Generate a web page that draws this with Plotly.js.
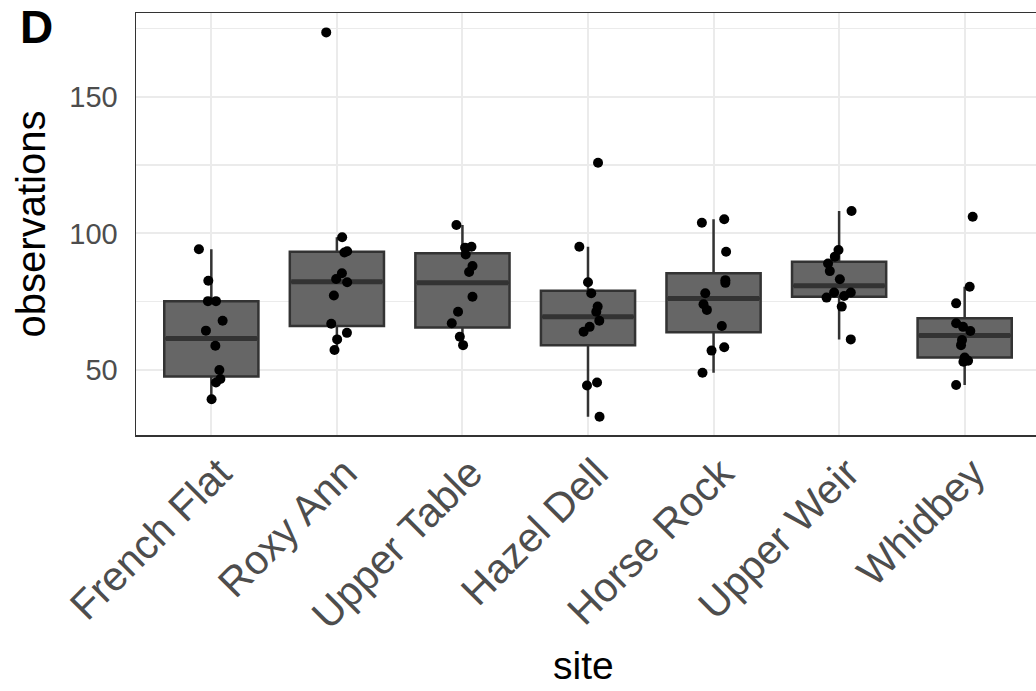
<!DOCTYPE html>
<html>
<head>
<meta charset="utf-8">
<script src="https://cdn.plot.ly/plotly-3.0.1.min.js"></script>
<style>
html, body { margin: 0; padding: 0; overflow: hidden; background: #fff; }
#chart { width: 1040px; height: 691px; }
</style>
</head>
<body>
<div id="chart"></div>
<script>
// Categories
const sites = ["French Flat", "Roxy Ann", "Upper Table", "Hazel Dell", "Horse Rock", "Upper Weir", "Whidbey"];

// Observations per site and their horizontal jitter (fraction of a category)
const obsFrenchFlat = [94.2, 82.7, 75.2, 75.2, 68.0, 64.4, 58.9, 50.0, 46.7, 45.4, 39.3];
const jitFrenchFlat = [-0.099, -0.024, -0.027, 0.037, 0.09, -0.043, 0.032, 0.064, 0.072, 0.037, 0.002];

const obsRoxyAnn = [173.6, 98.6, 93.5, 93.0, 85.4, 83.3, 82.1, 77.3, 66.9, 63.6, 61.2, 57.3];
const jitRoxyAnn = [-0.085, 0.042, 0.082, 0.06, 0.04, -0.006, 0.082, -0.024, -0.045, 0.08, 0.002, -0.019];

const obsUpperTable = [103.1, 95.1, 94.8, 92.3, 88.1, 85.9, 76.8, 71.3, 67.1, 62.2, 59.1];
const jitUpperTable = [-0.048, 0.072, 0.021, 0.026, 0.08, 0.053, 0.08, -0.035, -0.085, -0.021, 0.005];

const obsHazelDell = [125.9, 95.1, 82.1, 78.1, 73.2, 71.3, 68.0, 65.8, 64.0, 45.4, 44.3, 32.9];
const jitHazelDell = [0.08, -0.069, 0.0, 0.026, 0.077, 0.066, 0.09, 0.013, -0.035, 0.072, -0.008, 0.092];

const obsHorseRock = [105.2, 103.9, 93.3, 82.9, 81.9, 78.1, 74.1, 72.0, 66.1, 58.3, 57.1, 49.0];
const jitHorseRock = [0.085, -0.093, 0.1, 0.094, 0.094, -0.066, -0.08, -0.053, 0.066, 0.085, -0.016, -0.088];

const obsUpperWeir = [108.2, 93.9, 91.5, 89.0, 86.2, 83.2, 78.4, 78.4, 77.1, 76.5, 73.2, 61.2];
const jitUpperWeir = [0.099, -0.005, -0.034, -0.088, -0.074, 0.006, -0.04, 0.093, 0.04, -0.1, 0.021, 0.093];

const obsWhidbey = [106.1, 80.5, 74.4, 67.1, 65.8, 64.3, 61.0, 59.1, 54.6, 53.4, 53.0, 44.5];
const jitWhidbey = [0.064, 0.04, -0.068, -0.068, -0.013, 0.045, -0.021, -0.029, 0.0, 0.027, -0.01, -0.068];

// Box statistics per site
const boxLower  = [39.3, 57.3, 59.1, 32.9, 49.0, 61.2, 44.5];
const boxQ1     = [47.6, 66.1, 65.6, 59.1, 63.8, 76.8, 54.6];
const boxMedian = [61.5, 82.3, 81.9, 69.5, 76.2, 80.8, 62.6];
const boxQ3     = [75.2, 93.3, 92.7, 79.0, 85.4, 89.6, 68.9];
const boxUpper  = [94.2, 98.6, 103.1, 95.1, 105.2, 108.2, 80.5];

// Axis tick values
const yTicks = [50, 100, 150];

const allObs = [obsFrenchFlat, obsRoxyAnn, obsUpperTable, obsHazelDell, obsHorseRock, obsUpperWeir, obsWhidbey];
const allJit = [jitFrenchFlat, jitRoxyAnn, jitUpperTable, jitHazelDell, jitHorseRock, jitUpperWeir, jitWhidbey];

const idx = sites.map((s, i) => i);
const BOXW = 0.75;

const boxTrace = {
  type: 'box',
  x: idx,
  q1: boxQ1,
  median: boxMedian,
  q3: boxQ3,
  lowerfence: boxLower,
  upperfence: boxUpper,
  width: BOXW,
  whiskerwidth: 0,
  boxpoints: false,
  fillcolor: '#666666',
  line: { color: '#333333', width: 2.5 },
  hoverinfo: 'skip',
  showlegend: false
};

// thick median bars
const medX = [], medY = [];
idx.forEach(i => {
  medX.push(i - BOXW / 2 + 0.012, i + BOXW / 2 - 0.012, null);
  medY.push(boxMedian[i], boxMedian[i], null);
});
const medTrace = {
  type: 'scatter', mode: 'lines', x: medX, y: medY,
  line: { color: '#333333', width: 5 },
  hoverinfo: 'skip', showlegend: false
};

const px = [], py = [];
allObs.forEach((arr, i) => {
  arr.forEach((v, k) => { px.push(i + allJit[i][k]); py.push(v); });
});
const ptTrace = {
  type: 'scatter', mode: 'markers', x: px, y: py,
  marker: { color: '#000000', size: 10 },
  showlegend: false
};

const FONT = 'Liberation Sans, Arial, Helvetica, sans-serif';

const layout = {
  width: 1040, height: 691,
  margin: { l: 136, r: 0, t: 13, b: 256 },
  paper_bgcolor: '#ffffff',
  plot_bgcolor: '#ffffff',
  font: { family: FONT },
  showlegend: false,
  xaxis: {
    type: 'linear',
    range: [-0.6, 6.6],
    tickvals: idx,
    ticktext: sites,
    tickangle: -45,
    tickfont: { size: 41, color: '#4d4d4d', family: FONT },
    ticks: '',
    ticklabelshift: 8,
    ticklabelstandoff: -4,
    showgrid: true, gridcolor: '#ebebeb', gridwidth: 2,
    zeroline: false,
    showline: true, mirror: true, linecolor: '#333333', linewidth: 1.5,
    automargin: false
  },
  yaxis: {
    range: [26.2, 180.7],
    tickvals: yTicks,
    tickfont: { size: 29, color: '#4d4d4d', family: FONT },
    ticks: '',
    ticklabelstandoff: 11,
    showgrid: true, gridcolor: '#ebebeb', gridwidth: 2,
    minor: { dtick: 25, tick0: 0, showgrid: true, gridcolor: '#ebebeb', gridwidth: 1.5 },
    zeroline: false,
    showline: true, mirror: true, linecolor: '#333333', linewidth: 1.5,
    automargin: false,
    title: { text: 'observations', font: { size: 40, color: '#000000', family: FONT }, standoff: 11 }
  },
  annotations: [{
    text: '<b>D</b>', xref: 'paper', yref: 'paper',
    x: -0.13, y: 0.9005, xanchor: 'left', yanchor: 'bottom',
    showarrow: false,
    font: { size: 46, color: '#000000', family: FONT }
  }, {
    text: 'site', xref: 'paper', yref: 'paper',
    x: 0.4945, y: -0.547, xanchor: 'center', yanchor: 'middle',
    showarrow: false,
    font: { size: 39, color: '#000000', family: FONT }
  }]
};

Plotly.newPlot('chart', [boxTrace, medTrace, ptTrace], layout, { displayModeBar: false, staticPlot: true });
</script>
</body>
</html>
